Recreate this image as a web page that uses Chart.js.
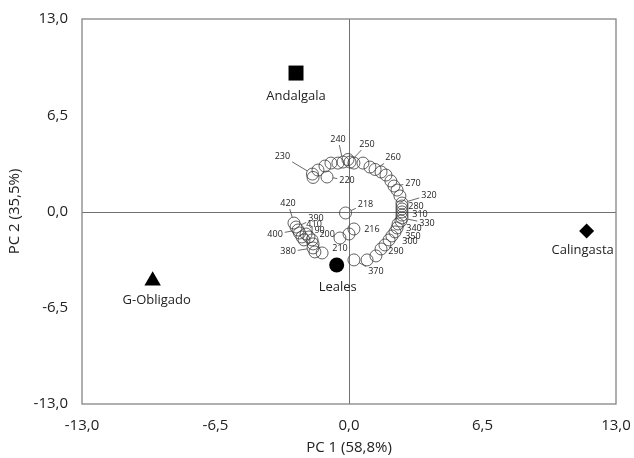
<!DOCTYPE html>
<html>
<head>
<meta charset="utf-8">
<script src="https://cdn.jsdelivr.net/npm/chart.js@4.4.1/dist/chart.umd.min.js"></script>
<style>
  html, body { margin: 0; padding: 0; background: #fff; }
</style>
</head>
<body>
<canvas id="myChart" width="634" height="458"></canvas>
<script>
// sites (filled markers)
const siteNames = ['Andalgala', 'Leales', 'G-Obligado', 'Calingasta'];
const sitePC1 = [-2.58, -0.60, -9.56, 11.57];
const sitePC2 = [9.35, -3.61, -4.67, -1.32];

// wavelength scores (open circles), '' = no label
const waveLabels = ['230', '', '', '', '', '220', '', '240', '', '250',
  '', '', '', '260', '', '', '', '270', '', '',
  '320', '280', '', '310', '', '330', '340', '', '', '350',
  '', '300', '', '290', '', '', '370', '218', '216', '',
  '210', '420', '390', '400', '', '', '', '410', '', '190',
  '', '380', '', '200'];
const wavePC1 = [-1.78, -1.75, -1.51, -1.17, -0.88, -1.07, -0.54, -0.29, -0.05, 0.05,
  0.24, 0.68, 1.02, 1.27, 1.56, 1.80, 2.04, 2.19, 2.34, 2.48,
  2.58, 2.58, 2.58, 2.58, 2.58, 2.58, 2.53, 2.39, 2.34, 2.24,
  2.09, 1.95, 1.75, 1.56, 1.31, 0.88, 0.24, -0.17, 0.24, 0.00,
  -0.44, -2.68, -2.58, -2.48, -2.41, -2.29, -2.19, -2.09, -1.95, -1.80,
  -1.75, -1.75, -1.66, -1.31];
const wavePC2 = [2.53, 2.30, 2.80, 3.07, 3.27, 2.33, 3.27, 3.34, 3.51, 3.34,
  3.27, 3.27, 3.00, 2.84, 2.67, 2.46, 2.06, 1.72, 1.45, 1.05,
  0.57, 0.37, 0.17, -0.03, -0.24, -0.44, -0.64, -0.84, -1.11, -1.38,
  -1.65, -1.92, -2.26, -2.53, -3.00, -3.27, -3.27, -0.10, -1.18, -1.52,
  -1.79, -0.78, -1.05, -1.25, -1.45, -1.72, -1.92, -1.52, -1.72, -1.92,
  -2.19, -2.46, -2.73, -2.80];

const axisTicks = [-13, -6.5, 0, 6.5, 13];

// label placement (pixels from the point) and leader lines
const labelPos = {
  '230': [-30, -18, 1], '220': [20, 3, 1], '240': [-5, -23, 1], '250': [17, -18, 1],
  '260': [18, -12, 1], '270': [19, -3, 1], '320': [27, -8, 1], '280': [14, 0, 0],
  '310': [18, 2, 0], '330': [25, 5, 1], '340': [13, 7, 0], '350': [18, 5, 0],
  '300': [21, 2, 0], '290': [15, 2, 0], '370': [22, 12, 1], '218': [20, -9, 1],
  '216': [18, 0, 0], '210': [0, 10, 0], '420': [-6, -20, 1], '390': [20, -9, 1],
  '400': [-23, 4, 1], '410': [8, -10, 0], '190': [5, -9, 0], '380': [-25, 4, 1],
  '200': [5, -19, 0]
};

const fmt = v => v.toFixed(1).replace('.', ',');

const frame = {
  id: 'frame',
  beforeDatasetsDraw(chart) {
    const {ctx, chartArea: a, scales: {x, y}} = chart;
    ctx.save();
    ctx.strokeStyle = '#707070';
    ctx.lineWidth = 1;
    const x0 = Math.round(x.getPixelForValue(0)) + 0.5;
    const y0 = Math.round(y.getPixelForValue(0)) + 0.5;
    ctx.beginPath();
    ctx.moveTo(x0, a.top); ctx.lineTo(x0, a.bottom);
    ctx.moveTo(a.left, y0); ctx.lineTo(a.right, y0);
    ctx.stroke();
    ctx.strokeStyle = '#858585';
    ctx.lineWidth = 1.3;
    ctx.strokeRect(a.left, a.top, a.right - a.left, a.bottom - a.top);
    ctx.restore();
  }
};

const pointLabels = {
  id: 'pointLabels',
  afterDatasetsDraw(chart) {
    const ctx = chart.ctx;
    ctx.save();
    ctx.textAlign = 'center';
    ctx.textBaseline = 'middle';
    // small wavelength labels
    ctx.font = '9px "Open Sans"';
    ctx.fillStyle = '#222';
    ctx.strokeStyle = '#444';
    ctx.lineWidth = 0.8;
    chart.getDatasetMeta(0).data.forEach((pt, i) => {
      const t = waveLabels[i];
      if (!t) return;
      const [dx, dy, lead] = labelPos[t];
      const tx = pt.x + dx, ty = pt.y + dy;
      ctx.fillText(t, tx, ty);
      if (lead) {
        const w = ctx.measureText(t).width / 2 + 2, h = 6;
        const vx = pt.x - tx, vy = pt.y - ty;
        const len = Math.hypot(vx, vy);
        const s = Math.min(w / Math.abs(vx || 1e-6), h / Math.abs(vy || 1e-6));
        const sx = tx + vx * s, sy = ty + vy * s;
        const ex = pt.x - vx / len * 6, ey = pt.y - vy / len * 6;
        if (Math.hypot(ex - sx, ey - sy) > 2 && s < 1) {
          ctx.beginPath();
          ctx.moveTo(sx, sy);
          ctx.lineTo(ex, ey);
          ctx.stroke();
        }
      }
    });
    // site names
    ctx.font = '13px "Open Sans"';
    const off = [[0, 23], [1, 22], [4, 20], [-4, 19]];
    chart.getDatasetMeta(1).data.forEach((pt, i) => {
      ctx.fillText(siteNames[i], pt.x + off[i][0], pt.y + off[i][1]);
    });
    ctx.restore();
  }
};

const spectra = wavePC1.map((v, i) => ({x: v, y: wavePC2[i]}));
const sites = sitePC1.map((v, i) => ({x: v, y: sitePC2[i]}));

const axisFont = {family: '"Open Sans"', size: 15};

const config = {
  type: 'scatter',
  data: {
    datasets: [{
      label: 'wavelengths',
      data: spectra,
      pointStyle: 'circle',
      pointRadius: 6,
      pointBorderWidth: 0.8,
      borderColor: '#3a3a3a',
      backgroundColor: 'rgba(255,255,255,0)'
    }, {
      label: 'sites',
      data: sites,
      pointStyle: ['rect', 'circle', 'triangle', 'rectRot'],
      pointRadius: [10.6, 7.5, 9.5, 7.5],
      borderWidth: 0,
      borderColor: '#000',
      backgroundColor: '#000'
    }]
  },
  options: {
    responsive: false,
    animation: false,
    events: [],
    layout: {padding: {left: 0, right: 18, top: 19, bottom: 0}},
    plugins: {legend: {display: false}, tooltip: {enabled: false}},
    scales: {
      x: {
        type: 'linear',
        min: -13, max: 13,
        afterBuildTicks: s => { s.ticks = axisTicks.map(v => ({value: v})); },
        afterFit: s => { s.height = 54; s.paddingLeft = 0; s.paddingRight = 0; },
        grid: {display: false, drawTicks: false},
        border: {display: false},
        ticks: {callback: fmt, padding: 13, color: '#222', font: axisFont, maxRotation: 0},
        title: {display: true, text: 'PC 1 (58,8%)', color: '#222', font: axisFont, padding: {top: 0, bottom: 1}}
      },
      y: {
        type: 'linear',
        min: -13, max: 13,
        afterBuildTicks: s => { s.ticks = axisTicks.map(v => ({value: v})); },
        afterFit: s => { s.width = 82; s.paddingTop = 0; s.paddingBottom = 0; },
        grid: {display: false, drawTicks: false},
        border: {display: false},
        ticks: {callback: fmt, padding: 14, color: '#222', font: axisFont},
        title: {display: true, text: 'PC 2 (35,5%)', color: '#222', font: axisFont, padding: {top: 6, bottom: 0}}
      }
    }
  },
  plugins: [frame, pointLabels]
};

var myChart = new Chart(document.getElementById('myChart'), config);
</script>
</body>
</html>
